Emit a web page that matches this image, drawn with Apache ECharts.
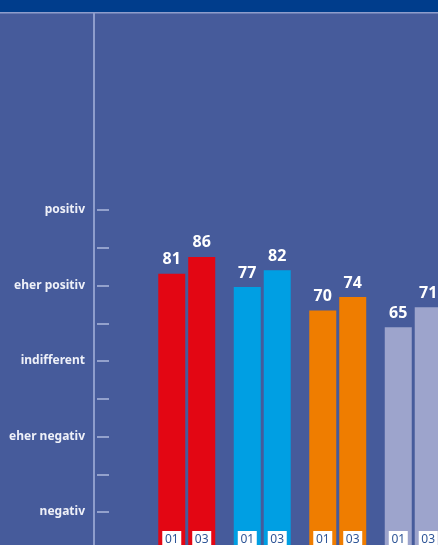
<!DOCTYPE html>
<html>
<head>
<meta charset="utf-8">
<script src="https://cdn.jsdelivr.net/npm/echarts@6/dist/echarts.min.js"></script>
<style>
  html, body { margin: 0; padding: 0; background: #465b9b; }
  #chart { width: 438px; height: 545px; }
</style>
</head>
<body>
<div id="chart"></div>
<script>
// Rating scale shown on the left (top to bottom, with half steps between)
const scaleLabels = ['positiv', 'eher positiv', 'indifferent', 'eher negativ', 'negativ'];

// Groups and the two survey waves
const groups = ['Gruppe A', 'Gruppe B', 'Gruppe C', 'Gruppe D'];
const waveNames = ['01', '03'];
const wave01 = [81, 77, 70, 65];
const wave03 = [86, 82, 74, 71];
const groupColors = ['#e30613', '#009fe3', '#ef7d00', '#9da4cc'];

const FONT = '"Noto Sans", "Open Sans", sans-serif';

function makeWave(name, values) {
  return {
    name: name,
    type: 'bar',
    xAxisIndex: 2,
    yAxisIndex: 2,
    barWidth: 27,
    barGap: '11%',
    data: values.map((v, i) => ({ value: v, itemStyle: { color: groupColors[i] } })),
    label: {
      show: true,
      position: 'top',
      distance: 6,
      color: '#ffffff',
      fontFamily: FONT,
      fontWeight: 'bold',
      fontSize: 16
    },
    markPoint: {
      silent: true,
      symbol: 'rect',
      symbolSize: [19, 18],
      symbolOffset: [0, -5],
      itemStyle: { color: '#ffffff' },
      label: {
        show: true,
        position: 'inside',
        formatter: name,
        color: '#2e5597',
        fontFamily: FONT,
        fontSize: 12
      },
      data: groups.map((g, i) => ({ coord: [i, 0] }))
    }
  };
}

const chart = echarts.init(document.getElementById('chart'), null, { renderer: 'canvas' });

chart.setOption({
  animation: false,
  backgroundColor: '#465b9b',
  graphic: [
    { type: 'rect', left: 0, top: 0, shape: { width: 438, height: 12 }, style: { fill: '#003d8c' }, silent: true },
    { type: 'rect', left: 0, top: 12, shape: { width: 438, height: 1.5 }, style: { fill: '#8e9dcc' }, silent: true }
  ],
  grid: [
    // rating scale ticks
    { left: 97, top: 210, width: 12, height: 302, outerBoundsMode: 'none' },
    // vertical divider line
    { left: 94, top: 13, width: 1, bottom: 0, outerBoundsMode: 'none' },
    // bars (last group runs past the right edge)
    { left: 149, top: 210, width: 302, bottom: 0, outerBoundsMode: 'none' }
  ],
  xAxis: [
    { gridIndex: 0, type: 'value', show: false },
    { gridIndex: 1, type: 'value', show: false },
    { gridIndex: 2, type: 'category', data: groups, show: false }
  ],
  yAxis: [
    {
      gridIndex: 0,
      type: 'value',
      inverse: true,
      min: 0,
      max: 8,
      interval: 1,
      axisLine: { show: false },
      axisTick: { show: false },
      splitLine: { show: true, lineStyle: { color: '#aeb8dc', width: 1.5 } },
      axisLabel: {
        margin: 12,
        color: '#eef0f8',
        fontFamily: FONT,
        fontWeight: 'bold',
        fontSize: 12,
        formatter: v => (v % 2 === 0 ? scaleLabels[v / 2] : '')
      }
    },
    {
      gridIndex: 1,
      type: 'value',
      axisLine: { show: true, lineStyle: { color: '#8e9dcc', width: 2 } },
      axisTick: { show: false },
      axisLabel: { show: false },
      splitLine: { show: false }
    },
    { gridIndex: 2, type: 'value', min: 0, max: 100, show: false }
  ],
  series: [
    makeWave(waveNames[0], wave01),
    makeWave(waveNames[1], wave03)
  ]
});
</script>
</body>
</html>
